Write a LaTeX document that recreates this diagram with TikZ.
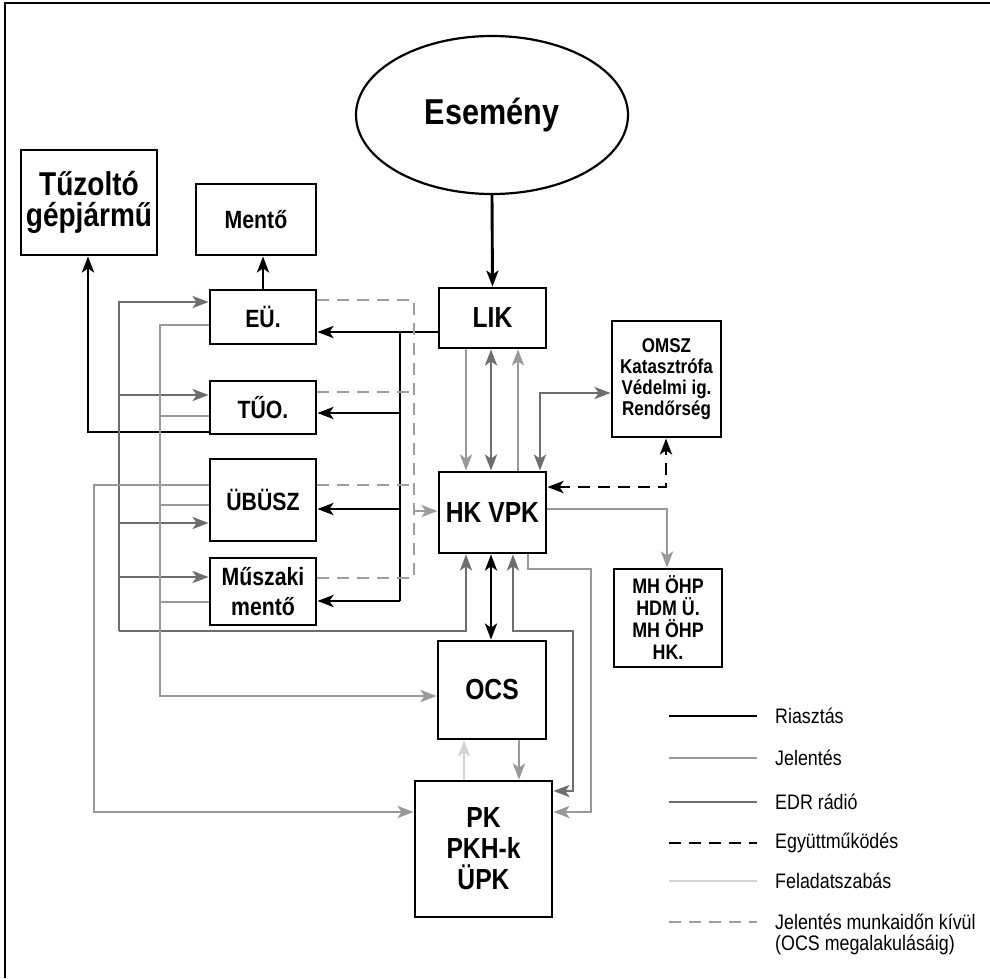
\documentclass[tikz,border=0pt]{standalone}
\usepackage{fontspec}
\setmainfont{Liberation Sans}[FakeStretch=0.85]
\usetikzlibrary{shapes.geometric,arrows.meta}
\definecolor{cedr}{gray}{0.43}
\definecolor{cjel}{gray}{0.6}
\definecolor{cfel}{gray}{0.83}
\definecolor{cdash}{gray}{0.62}
\newcommand{\fs}[2]{\fontsize{#1}{#2}\selectfont}
\tikzset{
  box/.style={draw, line width=2.8pt, inner sep=0pt, align=center, font=\bfseries},
  tip/.style={-{Stealth[length=16pt,width=12pt,inset=4pt]}},
  dtip/.style={{Stealth[length=16pt,width=12pt,inset=4pt]}-{Stealth[length=16pt,width=12pt,inset=4pt]}},
  ria/.style={line width=2.9pt, black},
  jel/.style={line width=2.9pt, cjel},
  edr/.style={line width=2.9pt, cedr},
  fel/.style={line width=2.9pt, cfel},
  egy/.style={line width=2.9pt, black, dash pattern=on 12pt off 8pt},
  dsh/.style={line width=2.9pt, cdash, dash pattern=on 12pt off 8pt},
  legtext/.style={anchor=west, inner sep=0pt, font=\fs{21}{23}},
}
\begin{document}
\begin{tikzpicture}[x=1pt,y=-1pt]
\useasboundingbox (0,0) rectangle (990,978);
% frame
\draw[line width=1.6pt] (5,978) -- (5,3) -- (990,3);

% nodes
\node[ellipse, draw, line width=2.2pt, minimum width=272pt, minimum height=158pt, inner sep=0pt, font=\bfseries\fs{36}{38}] (ev) at (492,115) {Esemény};
\node[box, minimum width=136pt, minimum height=105pt, font=\bfseries\fs{33}{31}] (tgj) at (89,202.5) {Tűzoltó\\gépjármű};
\node[box, minimum width=120pt, minimum height=71pt, font=\bfseries\fs{25}{27}] (mento) at (256,219.5) {Mentő};
\node[box, minimum width=106pt, minimum height=54pt, font=\bfseries\fs{25}{27}] (eu) at (263,317) {EÜ.};
\node[box, minimum width=106pt, minimum height=53pt, font=\bfseries\fs{25}{27}] (tuo) at (263,407.5) {TŰO.};
\node[box, minimum width=106pt, minimum height=82pt, font=\bfseries\fs{25}{27}] (ubusz) at (263,500) {ÜBÜSZ};
\node[box, minimum width=106pt, minimum height=67pt, font=\bfseries\fs{25}{30}] (musz) at (263,591.5) {Műszaki\\mentő};
\node[box, minimum width=107pt, minimum height=60pt, font=\bfseries\fs{29}{31}] (lik) at (492.5,318) {LIK};
\node[box, minimum width=107pt, minimum height=81pt, font=\bfseries\fs{29}{31}] (hk) at (492.5,512.5) {HK VPK};
\node[box, minimum width=109pt, minimum height=116pt, font=\bfseries\fs{20}{21}] (omsz) at (666.5,379) {OMSZ\\Katasztrófa\\Védelmi ig.\\Rendőrség};
\node[box, minimum width=108pt, minimum height=98pt, font=\bfseries\fs{21}{22}] (mh) at (668,618) {MH ÖHP\\HDM Ü.\\MH ÖHP\\HK.};
\node[box, minimum width=108pt, minimum height=98pt, font=\bfseries\fs{29}{31}] (ocs) at (492,690) {OCS};
\node[box, minimum width=137pt, minimum height=136pt, font=\bfseries\fs{29}{31}] (pk) at (483.5,849) {PK\\PKH-k\\ÜPK};

% Esemeny -> LIK
\draw[ria,tip] (ev.south) -- (lik.north);

% Riasztas bus
\coordinate (r1) at (400,332);
\coordinate (r2) at (400,413);
\coordinate (r3) at (400,509);
\coordinate (r4) at (400,601);
\draw[ria,tip] (lik.west |- r1) -- (eu.east |- r1);
\draw[ria] (r1) -- (r4);
\draw[ria,tip] (r2) -- (tuo.east |- r2);
\draw[ria,tip] (r3) -- (ubusz.east |- r3);
\draw[ria,tip] (r4) -- (musz.east |- r4);
\draw[ria,tip] (eu.north) -- (eu.north |- mento.south);
\coordinate (t1) at (88,432);
\draw[ria,tip] (tuo.west |- t1) -- (t1) -- (t1 |- tgj.south);

% dashed (Jelentes munkaidon kivul)
\coordinate (d1) at (414,300);
\coordinate (d2) at (414,392);
\coordinate (d3) at (414,485);
\coordinate (d4) at (414,578);
\coordinate (dh) at (414,511);
\draw[dsh] (eu.east |- d1) -- (d1) -- (d4) -- (musz.east |- d4);
\draw[dsh] (tuo.east |- d2) -- (d2);
\draw[dsh] (ubusz.east |- d3) -- (d3);
\draw[jel,tip,cdash] (dh) -- (hk.west |- dh);

% EDR left bus
\coordinate (e1) at (119,302);
\coordinate (e2) at (119,395);
\coordinate (e3) at (119,523);
\coordinate (e4) at (119,577);
\coordinate (eb) at (119,631);
\coordinate (er) at (466,631);
\draw[edr,tip] (e1 |- eb) -- (er) -- (er |- hk.south);
\draw[edr,tip] (eb) -- (e1) -- (eu.west |- e1);
\draw[edr,tip] (e2) -- (tuo.west |- e2);
\draw[edr,tip] (e3) -- (ubusz.west |- e3);
\draw[edr,tip] (e4) -- (musz.west |- e4);

% Jelentes left bus
\coordinate (j1) at (160,325);
\coordinate (j2) at (160,416);
\coordinate (j3) at (160,505);
\coordinate (j4) at (160,602);
\coordinate (jb) at (160,696);
\draw[jel,tip] (eu.west |- j1) -- (j1) -- (jb) -- (ocs.west |- jb);
\draw[jel] (tuo.west |- j2) -- (j2);
\draw[jel] (ubusz.west |- j3) -- (j3);
\draw[jel] (musz.west |- j4) -- (j4);
\coordinate (k1) at (94,485);
\coordinate (kb) at (94,812);
\draw[jel,tip] (ubusz.west |- k1) -- (k1) -- (kb) -- (pk.west |- kb);

% LIK - HK VPK
\coordinate (v1) at (466,400);
\coordinate (v2) at (491,400);
\coordinate (v3) at (518,400);
\coordinate (vo) at (540,393);
\draw[jel,tip] (lik.south -| v1) -- (hk.north -| v1);
\draw[edr,dtip] (lik.south -| v2) -- (hk.north -| v2);
\draw[jel,tip] (hk.north -| v3) -- (lik.south -| v3);
\draw[edr,dtip] (hk.north -| vo) -- (vo) -- (omsz.west |- vo);

% Egyuttmukodes
\coordinate (co) at (666,487);
\draw[egy,dtip] (hk.east |- co) -- (co) -- (co |- omsz.south);

% HK -> MH
\coordinate (cm) at (667,509);
\draw[jel,tip] (hk.east |- cm) -- (cm) -- (cm |- mh.north);

% HK <-> OCS
\draw[ria,dtip] (hk.south -| v2) -- (ocs.north -| v2);

% HK <-> PK (EDR)
\coordinate (p1) at (513,631);
\coordinate (p2) at (573,631);
\coordinate (p3) at (573,791);
\draw[edr,dtip] (hk.south -| p1) -- (p1) -- (p2) -- (p3) -- (pk.east |- p3);

% HK -> PK (Jelentes)
\coordinate (q1) at (528,569);
\coordinate (q2) at (591,569);
\coordinate (q3) at (591,812);
\draw[jel,tip] (hk.south -| q1) -- (q1) -- (q2) -- (q3) -- (pk.east |- q3);

% OCS <-> PK
\coordinate (f1) at (464,760);
\coordinate (f2) at (519,760);
\draw[fel,tip] (pk.north -| f1) -- (ocs.south -| f1);
\draw[jel,tip] (ocs.south -| f2) -- (pk.north -| f2);

% legend
\node[legtext] (l1) at (775,716) {Riasztás};
\node[legtext] (l2) at (775,758) {Jelentés};
\node[legtext] (l3) at (775,802) {EDR rádió};
\node[legtext] (l4) at (775,843) {Együttműködés};
\node[legtext] (l5) at (775,881) {Feladatszabás};
\node[legtext] (l6) at (775,922) {Jelentés munkaidőn kívül};
\node[legtext] (l7) at (775,945) {(OCS megalakulásáig)};
\draw[ria] ([xshift=-106pt]l1.west) -- ++(88pt,0);
\draw[jel] ([xshift=-106pt]l2.west) -- ++(88pt,0);
\draw[edr] ([xshift=-106pt]l3.west) -- ++(88pt,0);
\draw[egy] ([xshift=-106pt]l4.west) -- ++(88pt,0);
\draw[fel] ([xshift=-106pt]l5.west) -- ++(88pt,0);
\draw[dsh] ([xshift=-106pt]l6.west) -- ++(88pt,0);
\end{tikzpicture}
\end{document}
